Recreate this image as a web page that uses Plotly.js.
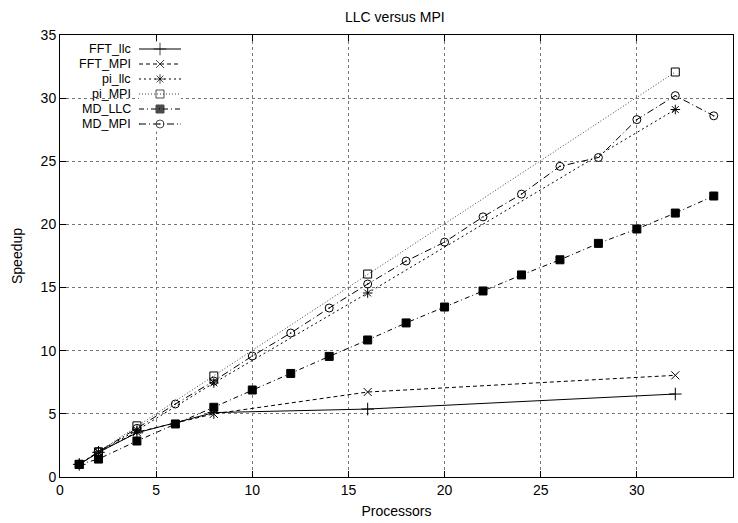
<!DOCTYPE html>
<html>
<head>
<meta charset="utf-8">
<script src="https://cdn.plot.ly/plotly-3.0.1.min.js"></script>
<style>html,body{margin:0;padding:0;background:#fff;}#chart{width:738px;height:523px;}</style>
</head>
<body>
<div id="chart"></div>
<script>
// ---- data ----
var procFFT = [1, 2, 4, 8, 16, 32];
var fftLlc  = [1.0, 1.95, 3.5, 5.1, 5.38, 6.57];
var fftMpi  = [1.0, 1.95, 3.55, 5.0, 6.73, 8.05];
var procPi  = [1, 2, 4, 8, 16, 32];
var piLlc   = [1.0, 2.0, 3.7, 7.45, 14.57, 29.1];
var piMpi   = [1.0, 2.0, 4.05, 8.0, 16.07, 32.07];
var procMD  = [1, 2, 4, 6, 8, 10, 12, 14, 16, 18, 20, 22, 24, 26, 28, 30, 32, 34];
var mdLlc   = [1.0, 1.42, 2.85, 4.2, 5.52, 6.89, 8.2, 9.55, 10.85, 12.2, 13.46, 14.73, 16.0, 17.2, 18.5, 19.64, 20.9, 22.25];
var mdMpi   = [1.0, 2.0, 3.85, 5.78, 7.6, 9.58, 11.4, 13.38, 15.28, 17.1, 18.6, 20.6, 22.4, 24.6, 25.3, 28.3, 30.2, 28.6];
var seriesNames = ["FFT_llc", "FFT_MPI", "pi_llc", "pi_MPI", "MD_LLC", "MD_MPI"];
var xTicks = [0, 5, 10, 15, 20, 25, 30, 35];
var yTicks = [0, 5, 10, 15, 20, 25, 30, 35];

var FONT = "Liberation Sans, Arial, Helvetica, sans-serif";
var FS = 14;
var KEY_FS = 12.5;

// styles (gnuplot-like line types)
var styles = [
  {dash: "solid",            symbol: "cross-thin-open", size: 9, color: "#000"},
  {dash: "4px,3px",          symbol: "x-thin-open",     size: 8, color: "#000"},
  {dash: "2px,3px",          symbol: "asterisk-open",   size: 8, color: "#000"},
  {dash: "1px,2px",          symbol: "square-open",     size: 8, color: "#444"},
  {dash: "5px,3px,1px,3px",  symbol: "square",          size: 8, color: "#000"},
  {dash: "7px,3px,1px,3px",  symbol: "circle-open-dot", size: 8, color: "#000"}
];
var xs = [procFFT, procFFT, procPi, procPi, procMD, procMD];
var ys = [fftLlc, fftMpi, piLlc, piMpi, mdLlc, mdMpi];

var data = seriesNames.map(function (n, i) {
  var s = styles[i];
  return {
    x: xs[i], y: ys[i], name: n, type: "scatter", mode: "lines+markers",
    showlegend: false,
    line: {color: s.color, width: 1, dash: s.dash},
    marker: {symbol: s.symbol, size: s.size, color: "#000", line: {color: "#000", width: 1}}
  };
});

// ---- gnuplot-style key (label left of sample), drawn on an auxiliary axis pair ----
var plotL = 60, plotT = 35, plotW = 673, plotH = 442;
var keyFirstRowPx = 49, keyRowPx = 15, keySampleX0 = 139, keySampleX1 = 181, keyTextRight = 132;
var nRows = seriesNames.length;
var keyTopPx = keyFirstRowPx - keyRowPx / 2;
var keyBotPx = keyFirstRowPx + (nRows - 0.5) * keyRowPx;
seriesNames.forEach(function (n, i) {
  var s = styles[i];
  data.push({
    x: [0, 0.5, 1], y: [i, i, i], xaxis: "x2", yaxis: "y2",
    type: "scatter", mode: "lines+markers", showlegend: false, hoverinfo: "skip",
    line: {color: s.color, width: 1, dash: s.dash},
    marker: {symbol: s.symbol, size: [0, s.size, 0], color: "#000", line: {color: "#000", width: [0, 1, 0]}}
  });
});
var annotations = seriesNames.map(function (n, i) {
  return {
    text: n, xref: "paper", yref: "paper",
    x: (keyTextRight - plotL) / plotW, xanchor: "right",
    y: 1 - (keyFirstRowPx + i * keyRowPx - plotT) / plotH, yanchor: "middle",
    borderpad: 0,
    showarrow: false, font: {family: FONT, size: KEY_FS, color: "#000"}
  };
});

var axisCommon = {
  ticks: "inside", ticklen: 6, tickcolor: "#000",
  showline: true, linecolor: "#000", linewidth: 1, mirror: "ticks",
  showgrid: true, gridcolor: "#777", griddash: "dot", gridwidth: 1,
  zeroline: false, tickfont: {family: FONT, size: FS}
};

var layout = {
  width: 738, height: 523,
  margin: {l: 60, r: 5, t: 35, b: 46},
  paper_bgcolor: "#fff", plot_bgcolor: "#fff",
  font: {family: FONT, size: FS, color: "#000"},
  title: {text: "LLC versus MPI", x: 0.535, xanchor: "center", y: 0.9675, yanchor: "middle", font: {family: FONT, size: FS}},
  showlegend: false,
  xaxis: Object.assign({}, axisCommon, {
    range: [0, 35], tickvals: xTicks, ticktext: xTicks.map(String),
    title: {text: "Processors", font: {family: FONT, size: FS}, standoff: 9}
  }),
  yaxis: Object.assign({}, axisCommon, {
    range: [0, 35], tickvals: yTicks, ticktext: yTicks.map(String),
    title: {text: "Speedup", font: {family: FONT, size: FS}, standoff: 14}
  }),
  xaxis2: {
    domain: [(keySampleX0 - plotL) / plotW, (keySampleX1 - plotL) / plotW],
    range: [0, 1], anchor: "y2", visible: false, fixedrange: true
  },
  yaxis2: {
    domain: [1 - (keyBotPx - plotT) / plotH, 1 - (keyTopPx - plotT) / plotH],
    range: [nRows - 0.5, -0.5], anchor: "x2", visible: false, fixedrange: true
  },
  shapes: [{
    type: "rect", xref: "paper", yref: "paper", layer: "between",
    x0: 0.0015, x1: (192 - plotL) / plotW, y0: 1 - (133 - plotT) / plotH, y1: 0.998,
    fillcolor: "#fff", line: {width: 0}
  }],
  annotations: annotations
};

Plotly.newPlot("chart", data, layout, {displayModeBar: false, staticPlot: true});
</script>
</body>
</html>
